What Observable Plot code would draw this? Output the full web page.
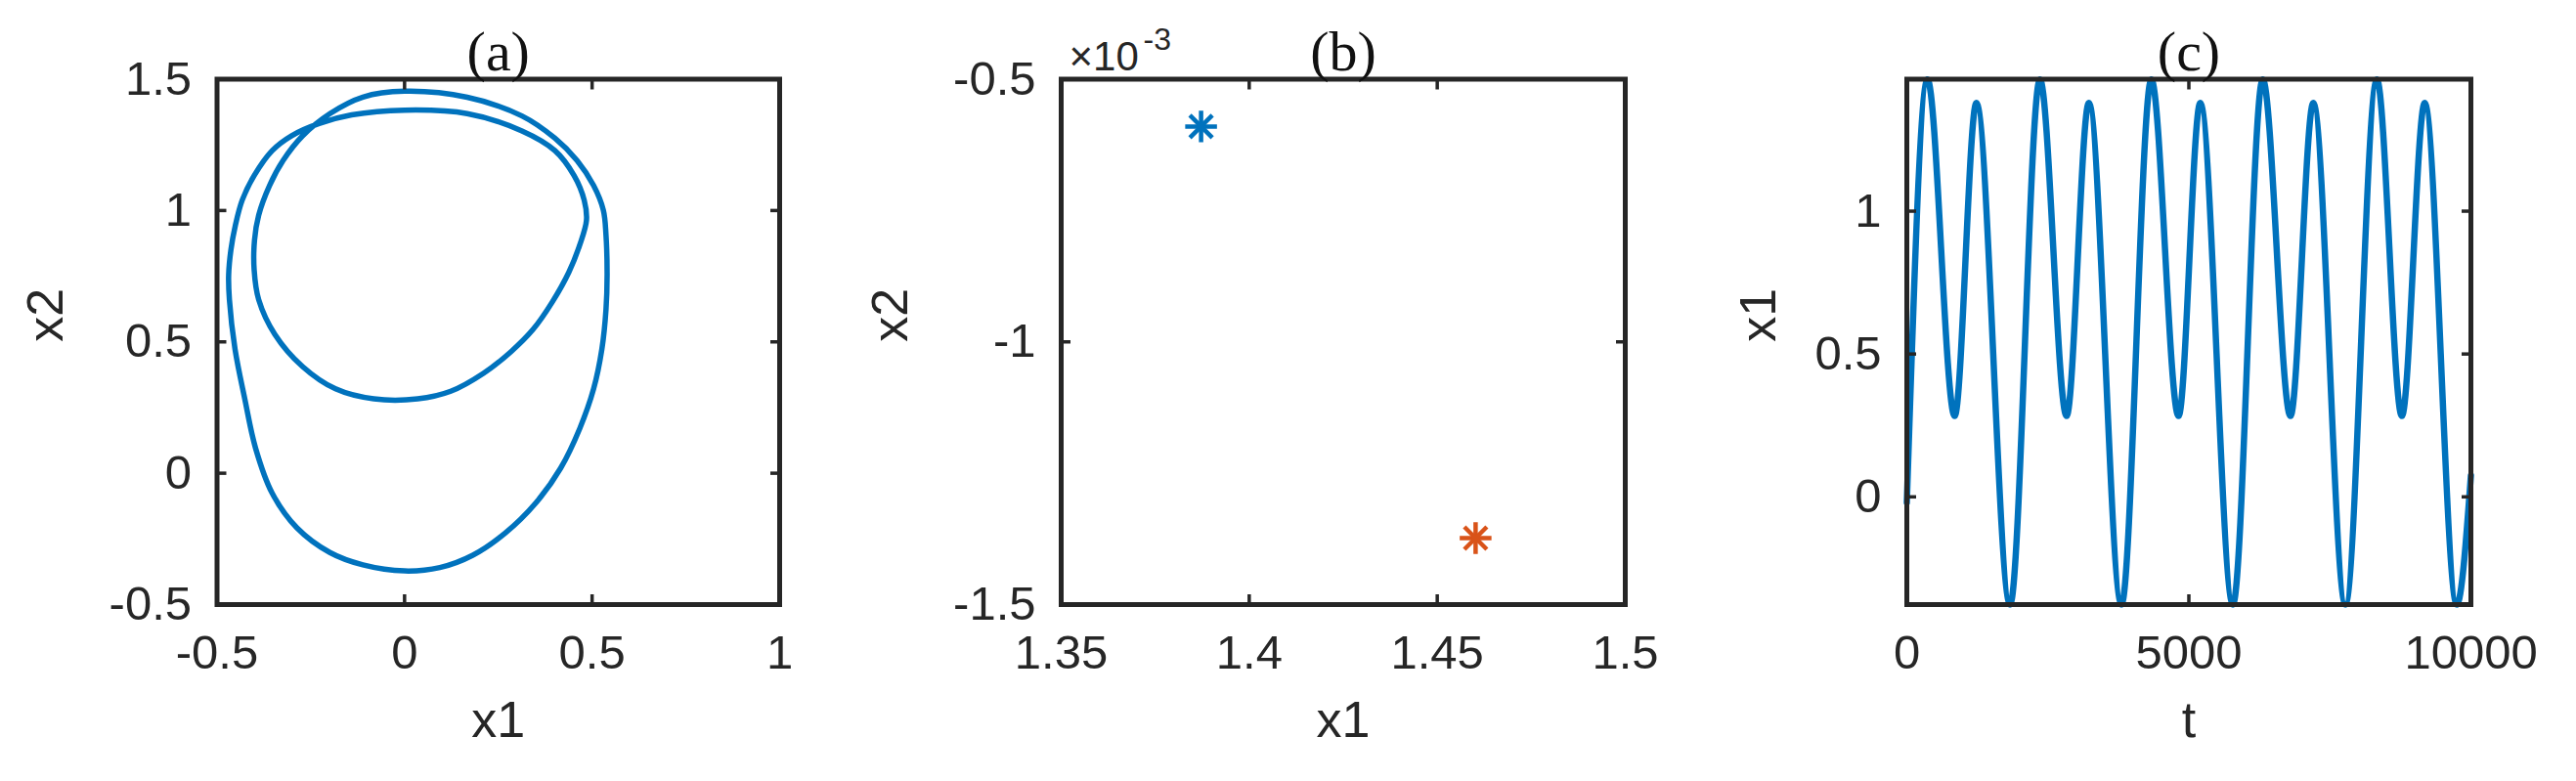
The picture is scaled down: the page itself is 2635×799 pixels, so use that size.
<!DOCTYPE html>
<html><head><meta charset="utf-8">
<script src="https://cdn.jsdelivr.net/npm/d3@7"></script>
<script src="https://cdn.jsdelivr.net/npm/@observablehq/plot@0.6"></script>
<style>
html,body{margin:0;padding:0;background:#fff;}
#wrap{position:relative;width:2635px;height:799px;overflow:hidden;background:#fff;}
#wrap > div{position:absolute;top:0;}
</style></head><body>
<div id="wrap"><div id="pa" style="left:0px"></div><div id="pb" style="left:880px"></div><div id="pc" style="left:1760px"></div></div>
<script>
// ---------- data ----------
// (a) phase portrait, one closed period-2 orbit, read point by point
const phaseX1 = [0, -0.111, -0.199, -0.272, -0.324, -0.360, -0.389, -0.400, -0.401, -0.389, -0.346, -0.272, -0.184, -0.082,
  0.035, 0.123, 0.211, 0.284, 0.343, 0.394, 0.438, 0.467, 0.485, 0.479, 0.452, 0.401, 0.313, 0.167,
  0, -0.141, -0.228, -0.302, -0.353, -0.401, -0.433, -0.451, -0.463, -0.469, -0.467, -0.452, -0.426, -0.397, -0.353, -0.287, -0.199, -0.111,
  0, 0.094, 0.182, 0.269, 0.350, 0.416, 0.467, 0.504, 0.526, 0.537, 0.540, 0.537, 0.530, 0.504, 0.460, 0.401, 0.313, 0.167];
const phaseX2 = [1.454, 1.432, 1.369, 1.284, 1.190, 1.095, 0.982, 0.888, 0.774, 0.661, 0.529, 0.406, 0.321, 0.283,
  0.283, 0.312, 0.381, 0.463, 0.548, 0.652, 0.765, 0.869, 0.963, 1.039, 1.133, 1.228, 1.303, 1.369,
  1.382, 1.364, 1.331, 1.284, 1.228, 1.133, 1.039, 0.944, 0.850, 0.755, 0.661, 0.472, 0.283, 0.094, -0.076, -0.208, -0.302, -0.349,
  -0.372, -0.359, -0.312, -0.227, -0.113, 0.019, 0.170, 0.321, 0.472, 0.623, 0.755, 0.907, 1.001, 1.095, 1.190, 1.275, 1.360, 1.431];

// (b) Poincare section points
const sectionX1 = [1.3872, 1.4602];
const sectionX2 = [-0.000590, -0.0013735];
const sectionColors = ["#0072BD", "#D95319"];

// (c) time series x1(t): extrema
const seriesT  = [0, 366, 848, 1233, 1830, 2360, 2832, 3227, 3805, 4335, 4817, 5202, 5780, 6310, 6801, 7206, 7775, 8333, 8776, 9181, 9749, 10000];
const seriesX1 = [-0.02, 1.461, 0.283, 1.379, -0.377, 1.461, 0.283, 1.379, -0.377, 1.461, 0.283, 1.379, -0.377, 1.461, 0.283, 1.379, -0.377, 1.461, 0.283, 1.379, -0.377, 0.075];

// ticks
const ticksAx = [-0.5, 0, 0.5, 1];
const ticksAy = [-0.5, 0, 0.5, 1, 1.5];
const ticksBx = [1.35, 1.4, 1.45, 1.5];
const ticksBy = [-0.0015, -0.001, -0.0005];
const ticksCx = [0, 5000, 10000];
const ticksCy = [0, 0.5, 1];

// ---------- style ----------
const INK = "#262626";
const BLUE = "#0072BD";
const SANS = "'Liberation Sans', Arial, Helvetica, sans-serif";
const SERIF = "'Liberation Serif', 'Times New Roman', serif";
const TICKFS = 49, LABELFS = 52, TITLEFS = 58;

function fmt(d) { return String(+d.toFixed(4)); }

function axes(xt, yt, xf, yf) {
  const base = {color: INK, strokeWidth: 3.5, fontSize: TICKFS, fontFamily: SANS, label: null};
  return [
    Plot.axisX({...base, ticks: xt, anchor: "bottom", tickSize: -10, tickPadding: 41, tickFormat: xf}),
    Plot.axisX({...base, ticks: xt, anchor: "top", tickSize: -10, tickFormat: () => ""}),
    Plot.axisY({...base, ticks: yt, anchor: "left", tickSize: -10, tickPadding: 36, tickFormat: yf}),
    Plot.axisY({...base, ticks: yt, anchor: "right", tickSize: -10, tickFormat: () => ""})
  ];
}
function labels(title, xl, yl, ydx) {
  return [
    Plot.text([title], {text: d => d, frameAnchor: "top", dy: -9, lineAnchor: "bottom", fontFamily: SERIF, fontSize: TITLEFS, fill: "#111"}),
    Plot.text([xl], {text: d => d, frameAnchor: "bottom", dy: 119, lineAnchor: "middle", fontFamily: SANS, fontSize: LABELFS, fill: INK}),
    Plot.text([yl], {text: d => d, frameAnchor: "left", dx: ydx, rotate: -90, lineAnchor: "middle", fontFamily: SANS, fontSize: LABELFS, fill: INK})
  ];
}
const frame = Plot.frame({stroke: INK, strokeWidth: 5});
const style = {background: "transparent", overflow: "visible", fontFamily: SANS};

// (a)
const phase = phaseX1.map((x, i) => ({x, y: phaseX2[i]}));
const pa = Plot.plot({
  width: 880, height: 799,
  marginLeft: 221.5, marginRight: 83, marginTop: 80.5, marginBottom: 181,
  style,
  x: {domain: [-0.5, 1]}, y: {domain: [-0.5, 1.5]},
  marks: [
    Plot.line(phase, {x: "x", y: "y", curve: "catmull-rom-closed", stroke: BLUE, strokeWidth: 5.5}),
    ...axes(ticksAx, ticksAy, fmt, fmt),
    frame,
    ...labels("(a)", "x1", "x2", -175)
  ]
});
document.getElementById("pa").appendChild(pa);

// (b)
const section = sectionX1.map((x, i) => ({x, y: sectionX2[i], c: sectionColors[i]}));
const pb = Plot.plot({
  width: 880, height: 799,
  marginLeft: 205, marginRight: 98, marginTop: 80.5, marginBottom: 181,
  style,
  color: {type: "identity"},
  x: {domain: [1.35, 1.5]}, y: {domain: [-0.0015, -0.0005]},
  marks: [
    Plot.dot(section, {x: "x", y: "y", stroke: "c", symbol: "plus", r: 10.5, strokeWidth: 4.5}),
    Plot.dot(section, {x: "x", y: "y", stroke: "c", symbol: "times", r: 10.5, strokeWidth: 4.5}),
    ...axes(ticksBx, ticksBy, fmt, d => fmt(d * 1000)),
    frame,
    ...labels("(b)", "x1", "x2", -174),
    Plot.text(["\u00d710"], {text: d => d, frameAnchor: "top-left", dx: 8, dy: -9, textAnchor: "start", lineAnchor: "bottom", fontFamily: SANS, fontSize: 42, fill: INK}),
    Plot.text(["-3"], {text: d => d, frameAnchor: "top-left", dx: 84, dy: -30, textAnchor: "start", lineAnchor: "bottom", fontFamily: SANS, fontSize: 32, fill: INK})
  ]
});
document.getElementById("pb").appendChild(pb);

// (c)
const series = seriesT.map((t, i) => ({t, v: seriesX1[i]}));
const pc = Plot.plot({
  width: 875, height: 799,
  marginLeft: 190, marginRight: 108, marginTop: 80.5, marginBottom: 181,
  style,
  x: {domain: [0, 10000]}, y: {domain: [-0.377, 1.462]},
  marks: [
    Plot.line(series, {x: "t", y: "v", curve: "monotone-x", stroke: BLUE, strokeWidth: 6.5}),
    ...axes(ticksCx, ticksCy, fmt, fmt),
    frame,
    ...labels("(c)", "t", "x1", -151)
  ]
});
document.getElementById("pc").appendChild(pc);
</script>
</body></html>
